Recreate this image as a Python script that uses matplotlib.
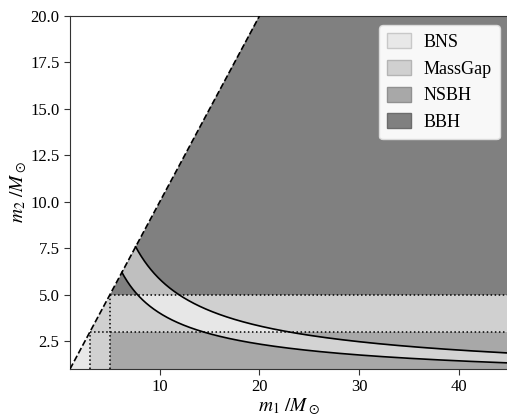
import numpy as np
import matplotlib
matplotlib.use("Agg")
import matplotlib.pyplot as plt
from matplotlib.patches import Patch

# ---- data ----
categories = ["BNS", "MassGap", "NSBH", "BBH"]
colors = ["#e8e8e8", "#d0d0d0", "#a8a8a8", "#808080"]
edge_colors = ["#c8c8c8", "#b4b4b4", "#909090", "#6c6c6c"]
ns_max = 3.0        # max NS mass
gap_max = 5.0       # upper edge of mass gap
chirp_bounds = [5.4, 6.6]   # chirp-mass band (lower, upper)
m1_lim = [1.0, 45.0]
m2_lim = [1.0, 20.0]
xticks = [10, 20, 30, 40]
yticks = [2.5, 5.0, 7.5, 10.0, 12.5, 15.0, 17.5, 20.0]

plt.rcParams["font.family"] = ["Liberation Serif", "DejaVu Serif"]
plt.rcParams["mathtext.fontset"] = "stix"

fig = plt.figure(figsize=(5.07, 4.16), dpi=100)
ax = fig.add_axes([0.1381, 0.1130, 0.8653, 0.8485])

x0, x1 = m1_lim
y0, y1 = m2_lim

# region polygons (m2 <= m1)
bns = [(x0, y0), (ns_max, y0), (ns_max, ns_max)]
gap = [(ns_max, y0), (gap_max, y0), (gap_max, ns_max), (x1, ns_max), (x1, gap_max),
       (gap_max, gap_max), (ns_max, ns_max)]
nsbh = [(gap_max, y0), (x1, y0), (x1, ns_max), (gap_max, ns_max)]
bbh = [(gap_max, gap_max), (x1, gap_max), (x1, y1), (y1, y1)]
for poly, c in zip([bns, gap, nsbh, bbh], colors):
    xs, ys = zip(*poly)
    ax.fill(xs, ys, color=c, lw=0, zorder=1)

# chirp mass curves
def m2_of(m1, mc):
    lo = np.zeros_like(m1)
    hi = m1.copy()
    for _ in range(80):
        mid = 0.5 * (lo + hi)
        f = (m1 * mid) ** 3 / (m1 + mid) - mc ** 5
        lo = np.where(f < 0, mid, lo)
        hi = np.where(f >= 0, mid, hi)
    return 0.5 * (lo + hi)

mc_lo, mc_hi = chirp_bounds
start_lo = mc_lo * 2 ** 0.2
start_hi = mc_hi * 2 ** 0.2
mm = np.linspace(start_lo, x1, 800)
low = m2_of(mm, mc_lo)
up = np.minimum(m2_of(mm, mc_hi), mm)
ax.fill_between(mm, low, up, color="white", alpha=0.5, lw=0, zorder=2)
for mc, s in [(mc_lo, start_lo), (mc_hi, start_hi)]:
    xx = np.linspace(s, x1, 800)
    ax.plot(xx, m2_of(xx, mc), color="black", lw=1.2, zorder=4)

# equal mass line
ax.plot([x0, y1], [y0, y1], color="black", ls="--", lw=1.2, zorder=4)

# dotted boundaries
ax.plot([ns_max, x1], [ns_max, ns_max], color="black", ls=":", lw=1.1, zorder=3)
ax.plot([gap_max, x1], [gap_max, gap_max], color="black", ls=":", lw=1.1, zorder=3)
ax.plot([ns_max, ns_max], [y0, ns_max], color="black", ls=":", lw=1.1, zorder=3)
ax.plot([gap_max, gap_max], [y0, gap_max], color="black", ls=":", lw=1.1, zorder=3)

ax.set_xlim(x0, x1)
ax.set_ylim(y0, y1)
ax.set_xticks(xticks)
ax.set_yticks(yticks)
ax.set_yticklabels([f"{v:.1f}" for v in yticks])
ax.tick_params(labelsize=12, direction="out", length=4, color="#333333")
for s in ax.spines.values():
    s.set_color("#333333")
ax.set_xlabel(r"$m_1\ /M_\odot$", fontsize=14, labelpad=1)
ax.set_ylabel(r"$m_2\ /M_\odot$", fontsize=14, labelpad=1)

handles = [Patch(facecolor=c, edgecolor=e, label=l) for c, e, l in zip(colors, edge_colors, categories)]
leg = ax.legend(handles=handles, loc="upper right", fontsize=13, framealpha=0.95,
                fancybox=True, edgecolor="#dddddd", handlelength=1.3, handleheight=0.9,
                handletextpad=0.7, borderpad=0.45, labelspacing=0.5, borderaxespad=0.5)
leg.set_zorder(10)

fig.savefig("out.png", dpi=100)
